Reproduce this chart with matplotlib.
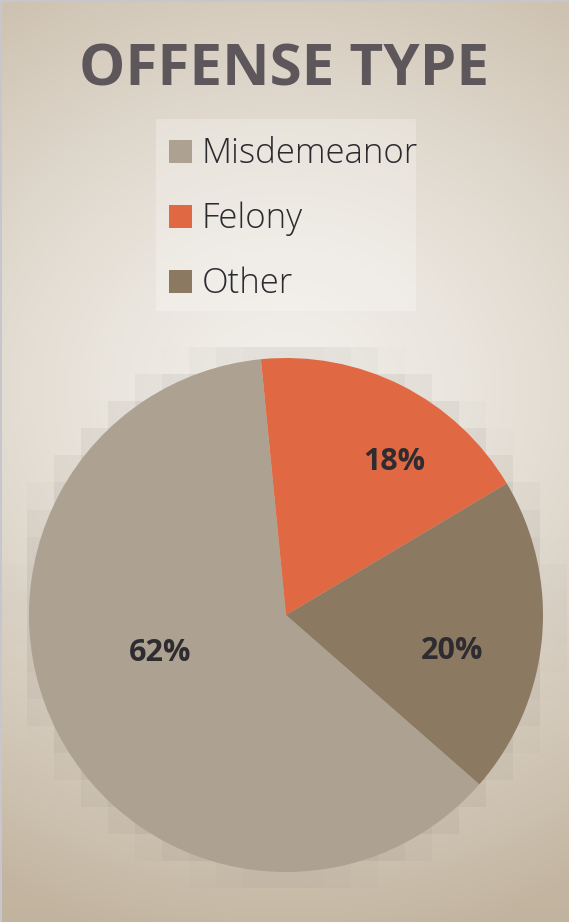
import numpy as np
import matplotlib.pyplot as plt
from matplotlib.patches import Rectangle

# data
categories = ["Misdemeanor", "Felony", "Other"]
shares = [62, 18, 20]
colors = ["#ada292", "#e06842", "#8c7961"]
title = "OFFENSE TYPE"

W, H = 569, 922
fig = plt.figure(figsize=(W / 100, H / 100), dpi=100)

# background: radial gradient
bg = fig.add_axes([0, 0, 1, 1])
bg.set_axis_off()
yy, xx = np.mgrid[0:H, 0:W]
cx, cy = 285, 390
t = np.sqrt(((xx - cx) / 620) ** 2 + ((yy - cy) / 560) ** 2)
t = np.clip(t, 0, 1) ** 1.4
light = np.array([0xf2, 0xef, 0xea]) / 255
dark = np.array([0xc2, 0xb4, 0x9f]) / 255
img = light[None, None, :] * (1 - t[..., None]) + dark[None, None, :] * t[..., None]
bg.imshow(img, extent=[0, W, H, 0], interpolation="bilinear")

# blocky glow round the pie
pcx, pcy, R = 286, 615, 257
blk = 27
ox, oy = 0, -3
gy, gx = np.mgrid[0:H // blk + 2, 0:W // blk + 2]
bx = gx * blk + blk / 2 + ox
by = gy * blk + blk / 2 + oy
d = np.sqrt((bx - pcx) ** 2 + (by - pcy) ** 2) / R
a = np.clip((1.08 - d) / 0.16, 0, 1) * 0.2
glow = np.zeros(d.shape + (4,))
glow[..., :3] = np.array([0x7a, 0x76, 0x70]) / 255
glow[..., 3] = a
bg.imshow(glow, extent=[ox, ox + glow.shape[1] * blk, oy + glow.shape[0] * blk, oy],
          interpolation="nearest")
bg.set_xlim(0, W)
bg.set_ylim(H, 0)
bg.add_patch(Rectangle((0, 0), 2, H, color="#c6c6cc", lw=0))
bg.add_patch(Rectangle((0, 0), W, 2, color="#c6c6cc", lw=0))

# pie
ax = fig.add_axes([(pcx - R) / W, (H - pcy - R) / H, 2 * R / W, 2 * R / H])
wedges, _, autotexts = ax.pie(
    shares, colors=colors, startangle=-41.2, counterclock=False,
    autopct="%d%%", pctdistance=0.6,
    textprops=dict(fontsize=22, fontweight="bold", color="#2e2c30", family="Open Sans"),
)
ax.set_xlim(-1, 1)
ax.set_ylim(-1, 1)
ax.set_axis_off()

label_r = [0.51, 0.73, 0.66]
label_shift = [-10.4, -8.4, -7.2]
for w, txt, r, s in zip(wedges, autotexts, label_r, label_shift):
    th = np.deg2rad((w.theta1 + w.theta2) / 2 + s)
    txt.set_position((r * np.cos(th), r * np.sin(th)))

fig.text(0.5, 1 - 85 / H, title, ha="center", va="baseline", fontsize=42,
         fontweight="bold", color="#5d575c", family="Open Sans")

# legend
lax = fig.add_axes([0, 0, 1, 1], facecolor="none")
lax.set_axis_off()
lax.set_xlim(0, W)
lax.set_ylim(H, 0)
lax.add_patch(Rectangle((156, 119), 260, 192, color="white", alpha=0.25, lw=0))
for i, (name, c) in enumerate(zip(categories, colors)):
    base = 163 + i * 65
    lax.add_patch(Rectangle((169, base - 23), 23, 23, color=c, lw=0))
    lax.text(202, base, name, ha="left", va="baseline", fontsize=25,
             color="#2a2a30", family="Open Sans", fontweight="light")

fig.savefig("out.png", dpi=100)
